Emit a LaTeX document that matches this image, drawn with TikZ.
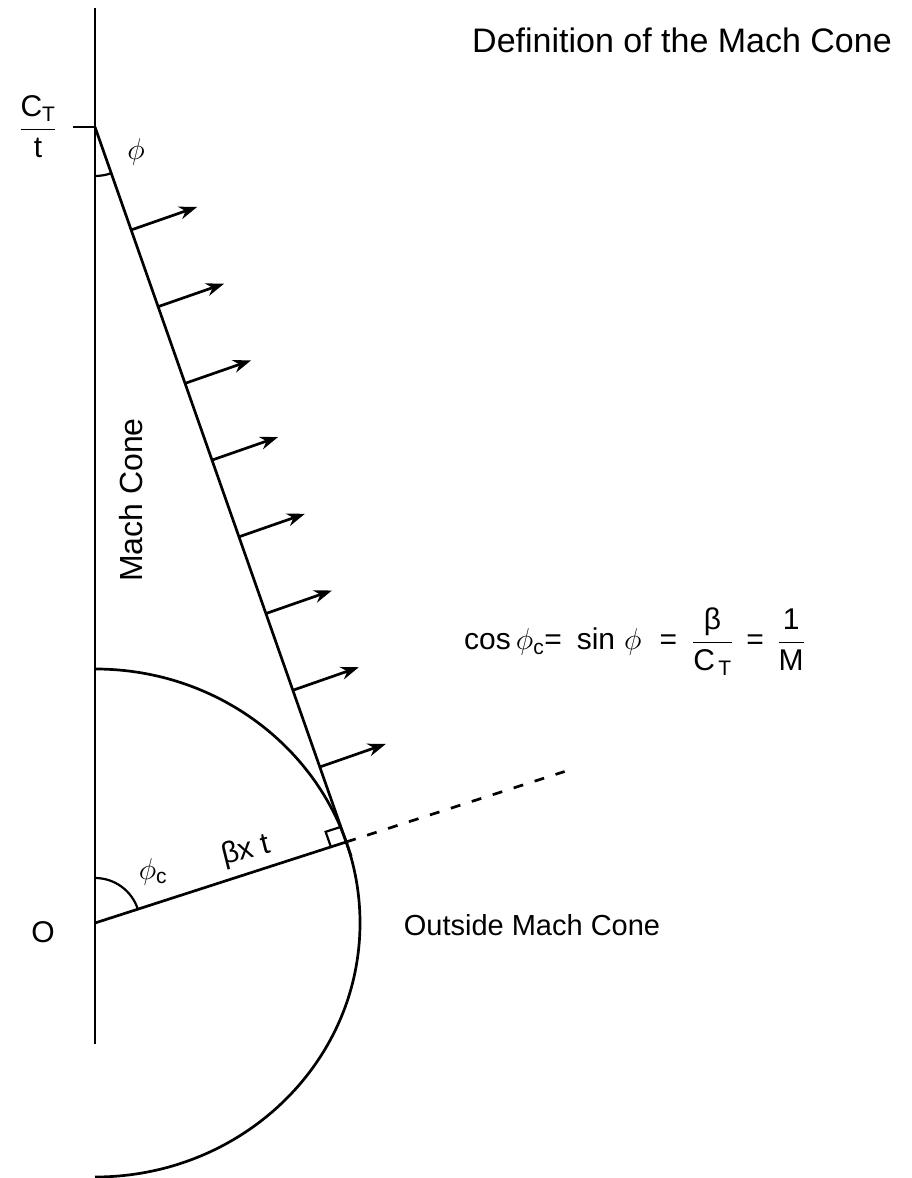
\RequirePackage{fix-cm}
\documentclass[tikz,border=0pt]{standalone}
\usepackage{fontspec}
\usepackage{amsmath}
\usepackage{tikz}
\usetikzlibrary{arrows.meta,positioning,calc,angles}
\setmainfont{Liberation Sans}

\begin{document}
\begin{tikzpicture}[x=1pt,y=1pt,
    geo/.style={line width=2.7pt},
    wavefront/.style={line width=2.7pt, -{Stealth[length=18pt,width=13pt]}},
    lbl/.style={font=\fontsize{30}{36}\selectfont, inner sep=0pt}]
  \useasboundingbox (0,0) rectangle (911,1178);
  % axis, source positions and tangent point
  \coordinate (axtop) at (95,1170);
  \coordinate (axbot) at (95,134);
  \coordinate (origin) at (95,255);
  \coordinate (apex) at (95,1051);
  \coordinate (tangent) at ($(origin)+(18.6:265 and 254)$);
  \coordinate (dashend) at ($(origin)!1.87!(tangent)$);

  \draw[geo] (axtop) -- (axbot);
  \draw[geo] (apex) -- ++(-22,0);
  \draw[geo] (origin) ++(0,254) arc[start angle=90, end angle=-90, x radius=265, y radius=254];
  \draw[geo] (apex) -- ($(apex)!1.02!(tangent)$);
  \draw[geo] (origin) -- (tangent);
  \draw[geo, dash pattern=on 10pt off 12pt] (tangent) -- (dashend);

  % right angle mark
  \coordinate (sqr) at ($(tangent)!16pt!(origin)$);
  \coordinate (sqc) at ($(tangent)!16pt!(apex)$);
  \draw[line width=2.2pt] (sqr) -- ($(sqr)+(sqc)-(tangent)$) -- (sqc);

  \pic[draw, line width=2.2pt, angle radius=49pt] {angle=origin--apex--tangent};
  \pic[draw, line width=2.2pt, angle radius=45pt] {angle=tangent--origin--apex};

  % wave front normals
  \foreach \k [evaluate=\k as \f using 0.144+0.1073*\k] in {0,...,7}
    \draw[wavefront] ($(apex)!\f!(tangent)$) -- ++(66,23);

  \node[lbl] (phi) at (136,1026) {$\phi$};
  \node[lbl] (phic) at (153,306) {$\phi_{\text{c}}$};
  \node[lbl, rotate=14] (bxt) at (246,327) {βx t};
  \node[lbl, font=\fontsize{32}{38}\selectfont, rotate=90] (machcone) at (131,678) {Mach Cone};
  \node[lbl] (olbl) at (43,246) {O};
  \node[lbl] (ctlbl) at (38,1051) {$\dfrac{\text{C}_{\text{T}}}{\text{t}}$};
  \node[lbl, font=\fontsize{34}{40}\selectfont] (title) at (682,1138) {Definition of the Mach Cone};
  \node[lbl, anchor=base west] (formula) at (464,528)
    {cos\,$\phi_{\text{c}}$=\hspace{0.5em}sin\hspace{0.3em}$\phi$\hspace{0.6em}=\hspace{0.5em}$\dfrac{\text{β}}{\text{C}_{\,\text{T}}}$\hspace{0.45em}=\hspace{0.45em}$\dfrac{\text{1}}{\text{M}}$};
  \node[lbl, font=\fontsize{29}{35}\selectfont] (outside) at (532,253) {Outside Mach Cone};
\end{tikzpicture}
\end{document}
